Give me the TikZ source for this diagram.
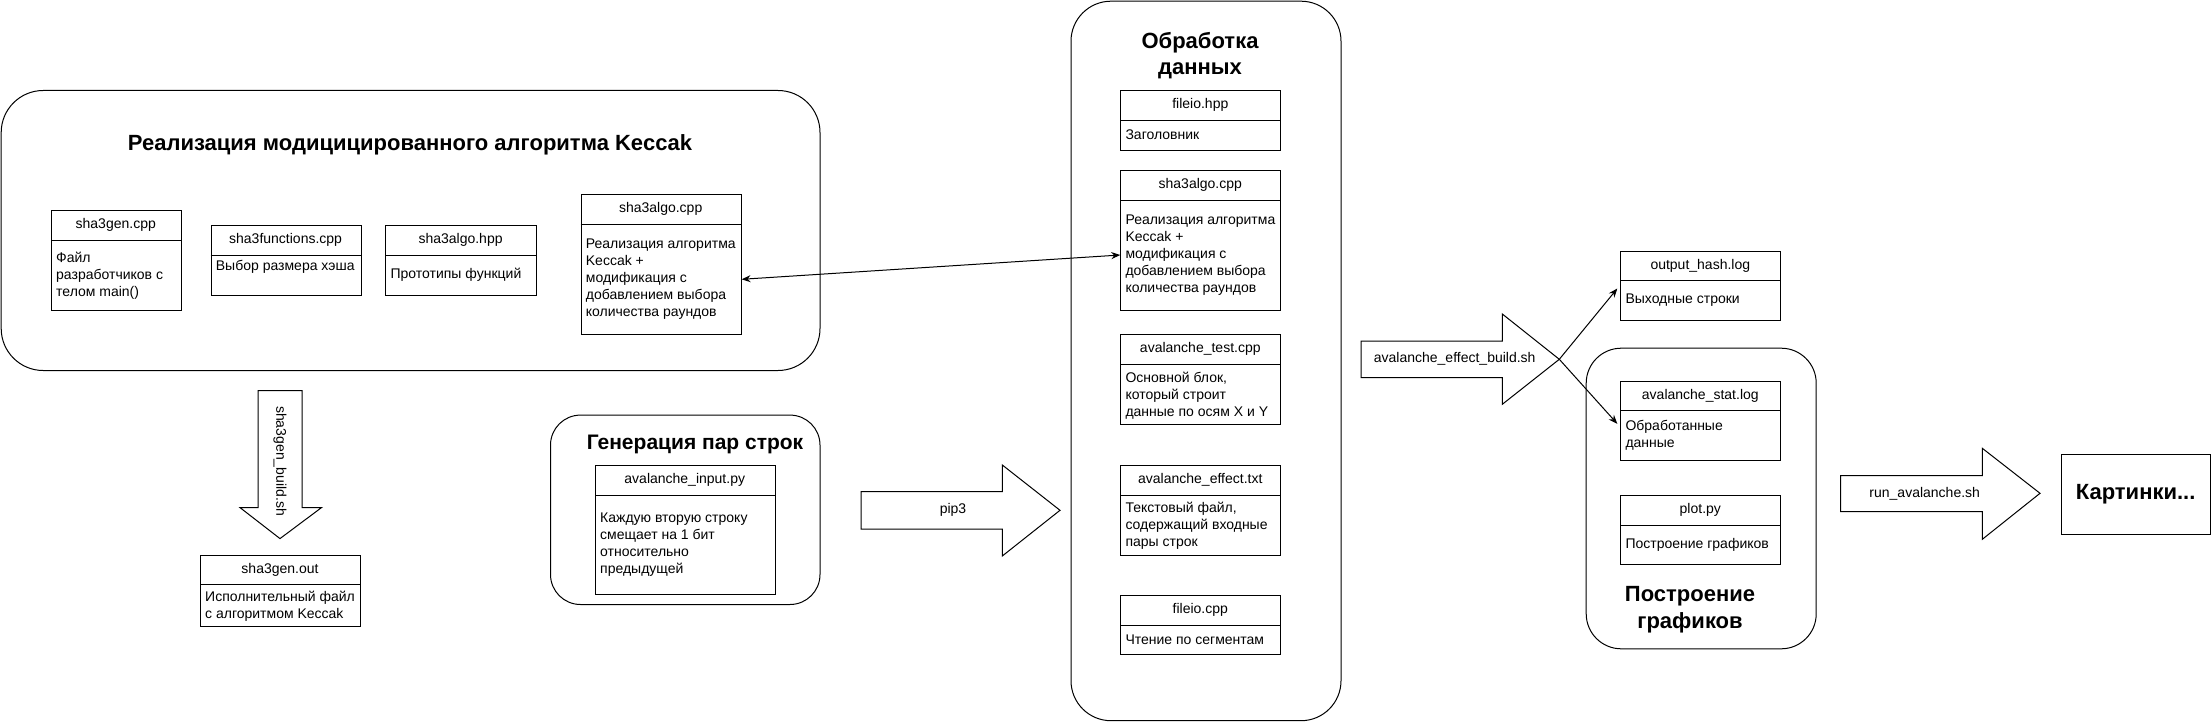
\documentclass[tikz,border=0pt]{standalone}
\usepackage{fontspec}
\setmainfont{Liberation Sans}
\usetikzlibrary{arrows.meta,calc}
\tikzset{
  fbox/.style={draw, line width=1pt, inner sep=0pt, anchor=north west},
  txt/.style={font=\fontsize{14}{17}\selectfont, inner sep=0pt},
  bodytxt/.style={txt, align=left, anchor=west},
  ttl/.style={font=\bfseries\fontsize{22}{26}\selectfont, inner sep=0pt, align=center},
  grp/.style={draw, line width=1pt, inner sep=0pt, anchor=north west},
  blk/.style={draw, line width=1pt, line join=miter},
  con/.style={line width=1pt, -{Stealth[length=9pt,width=7pt]}},
  con2/.style={line width=1pt, {Stealth[length=9pt,width=7pt]}-{Stealth[length=9pt,width=7pt]}},
}
% #1 name, #2 x1, #3 y1, #4 x2, #5 divider y, #6 y2, #7 header, #8 body, #9 body y
\newcommand\fbx[9]{%
  \node[fbox, minimum width={(#4-#2)*1pt}, minimum height={(#6-#3)*1pt}] (#1) at (#2,#3) {};
  \draw[line width=1pt] (#2,#5) -- (#4,#5);
  \node[txt] (#1h) at ({(#2+#4)/2},{(#3+#5)/2}) {#7};
  \node[bodytxt] (#1b) at ({#2+5},#9) {#8};
}
\begin{document}
\begin{tikzpicture}[x=1pt,y=-1pt]
\useasboundingbox (0,0) rectangle (2211,722);

% group containers
\node[grp, rounded corners=42pt, minimum width=818.8pt, minimum height=280pt] (g1) at (0.7,90) {};
\node[grp, rounded corners=40pt, minimum width=270pt, minimum height=719.5pt] (g2) at (1070.5,0.7) {};
\node[grp, rounded corners=30pt, minimum width=269.5pt, minimum height=189.4pt] (g3) at (550,414.6) {};
\node[grp, rounded corners=35pt, minimum width=230pt, minimum height=300.6pt] (g4) at (1585.7,347.7) {};

% titles
\node[ttl] (t1) at (410,145) {Реализация модицицированного алгоритма Keccak};
\node[ttl] (t2) at (1200,56) {Обработка\\данных};
\node[ttl, font=\bfseries\fontsize{21}{25}\selectfont] (t3) at (695,444) {Генерация пар строк};
\node[ttl, font=\bfseries\fontsize{22}{27}\selectfont] (t4) at (1690,609.7) {Построение\\графиков};

% file boxes
\fbx{sg}{51}{210}{180.5}{240}{310}{sha3gen.cpp}{Файл\\разработчиков с\\телом main()}{275.5}
\fbx{sf}{210.7}{225.3}{360.5}{255.3}{295.3}{sha3functions.cpp}{Выбор размера хэша}{266.7}
\fbx{sh}{385.4}{225.3}{535.7}{255.3}{295.3}{sha3algo.hpp}{Прототипы функций}{275}
\fbx{sa1}{580.7}{194.3}{740.6}{224.3}{334.3}{sha3algo.cpp}{Реализация алгоритма\\Keccak +\\модификация с\\добавлением выбора\\количества раундов}{279.3}
\fbx{fh}{1120.3}{90}{1280.3}{120.3}{150}{fileio.hpp}{Заголовник}{135}
\fbx{sa2}{1120.3}{170.3}{1280.3}{200.3}{310}{sha3algo.cpp}{Реализация алгоритма\\Keccak +\\модификация с\\добавлением выбора\\количества раундов}{255}
\fbx{atc}{1120.3}{334}{1280.3}{364}{424.3}{avalanche\_test.cpp}{Основной блок,\\который строит\\данные по осям X и Y}{395.5}
\fbx{aef}{1120.3}{465.3}{1280.3}{495}{555.3}{avalanche\_effect.txt}{Текстовый файл,\\содержащий входные\\пары строк}{525.7}
\fbx{fc}{1120.3}{595}{1280.3}{625}{654.3}{fileio.cpp}{Чтение по сегментам}{640}
\fbx{so}{200}{555}{360}{584.3}{625.7}{sha3gen.out}{Исполнительный файл\\с алгоритмом Keccak}{606.5}
\fbx{ai}{595}{465}{774.5}{495}{594}{avalanche\_input.py}{Каждую вторую строку\\смещает на 1 бит\\относительно\\предыдущей}{544.5}
\fbx{oh}{1620.3}{250.7}{1780.3}{280.7}{320.3}{output\_hash.log}{Выходные строки}{300.5}
\fbx{asl}{1620.3}{380.7}{1780.3}{410.3}{460.3}{avalanche\_stat.log}{Обработанные\\данные}{435.7}
\fbx{pp}{1620.3}{495}{1780.3}{525}{564.3}{plot.py}{Построение графиков}{544.5}

% picture box
\node[fbox, minimum width=148.8pt, minimum height=80.3pt] (pic) at (2060.7,454) {};
\node[ttl] (pict) at (pic.center) {Картинки...};

% block arrows
\draw[blk] (258,390.6) -- (302,390.6) -- (302,507.6) -- (321.5,507.6) -- (280,538.6) -- (240,507.6) -- (258,507.6) -- cycle;
\node[txt, rotate=-90] (lbuild) at (280,461) {sha3gen\_build.sh};

\draw[blk] (861,491.7) -- (1002.3,491.7) -- (1002.3,465) -- (1060,510.3) -- (1002.3,556) -- (1002.3,529) -- (861,529) -- cycle;
\node[txt] (lpip) at (953,510.3) {pip3};

\draw[blk] (1361,341) -- (1502.3,341) -- (1502.3,314) -- (1559.3,359.3) -- (1502.3,404.3) -- (1502.3,377.7) -- (1361,377.7) -- cycle;
\node[txt] (lavb) at (1454.7,359.3) {avalanche\_effect\_build.sh};
\coordinate (btip) at (1559.3,359.3);

\draw[blk] (1840.7,475.7) -- (1982.3,475.7) -- (1982.3,448.3) -- (2040,493.3) -- (1982.3,539.3) -- (1982.3,511.7) -- (1840.7,511.7) -- cycle;
\node[txt] (lrun) at (1924.7,493.5) {run\_avalanche.sh};

% connectors
\draw[con2] (sa1.east |- sa1b) -- (sa2.west |- sa2b);
\draw[con] (btip) -- ([shift={(-3,2.5)}]oh.west);
\draw[con] (btip) -- ([shift={(-3,2.8)}]asl.west);
\end{tikzpicture}
\end{document}
